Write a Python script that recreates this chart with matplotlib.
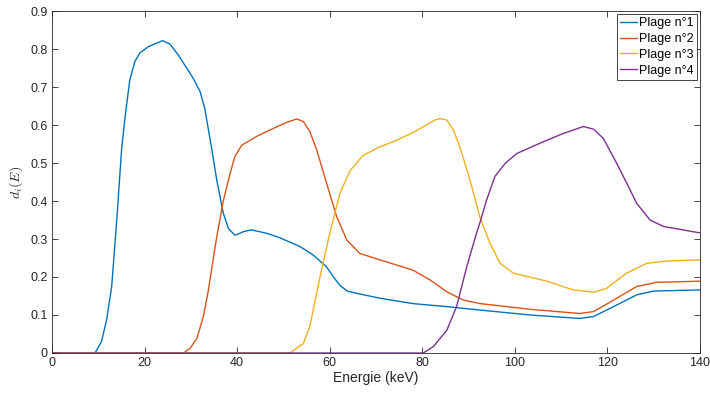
import matplotlib.pyplot as plt

plt.rcParams['font.family'] = ['Liberation Sans', 'DejaVu Sans']
plt.rcParams['mathtext.fontset'] = 'cm'

# energies (keV) and responses
e1 = [0, 9.3, 10.7, 11.8, 12.9, 14.0, 15.05, 15.8, 16.8, 17.9, 19.0, 20.8, 23.9, 25.5,
      27.3, 30.5, 32.0, 33.0, 34.5, 35.6, 37.0, 38.1, 39.5, 40.2, 41.5, 43.1, 46.4, 49.3,
      53.6, 56.4, 59.3, 60.8, 62.2, 63.8, 65.8, 70.9, 78.0, 85.3, 92.5, 103.3, 114.0,
      117.0, 121.3, 126.3, 130.0, 140]
d1 = [0, 0, 0.03, 0.087, 0.175, 0.35, 0.538, 0.622, 0.718, 0.767, 0.79, 0.806, 0.822, 0.813,
      0.784, 0.723, 0.688, 0.644, 0.538, 0.455, 0.368, 0.328, 0.31, 0.313, 0.32, 0.324, 0.315,
      0.303, 0.28, 0.258, 0.227, 0.2, 0.178, 0.163, 0.157, 0.144, 0.13, 0.122, 0.113, 0.1,
      0.091, 0.096, 0.122, 0.153, 0.163, 0.166]

e2 = [0, 28.4, 29.8, 31.3, 32.7, 33.8, 34.8, 35.6, 37.0, 38.5, 39.5, 41.0, 44.2, 47.8,
      50.7, 52.9, 54.3, 55.7, 57.2, 59.0, 61.5, 63.7, 66.5, 70.9, 78.0, 81.7, 85.3, 88.9,
      92.5, 103.3, 114.0, 117.0, 121.3, 126.3, 130.6, 140]
d2 = [0, 0, 0.012, 0.038, 0.096, 0.166, 0.245, 0.306, 0.4, 0.473, 0.517, 0.547, 0.57, 0.591,
      0.607, 0.616, 0.609, 0.583, 0.534, 0.46, 0.359, 0.297, 0.262, 0.245, 0.218, 0.192,
      0.161, 0.139, 0.13, 0.115, 0.104, 0.109, 0.139, 0.175, 0.186, 0.189]

e3 = [0, 51.4, 54.3, 55.7, 57.9, 60.0, 62.2, 64.4, 67.2, 70.9, 74.5, 78.0, 80.9, 82.7,
      83.8, 85.3, 86.7, 88.1, 90.3, 92.5, 94.6, 96.8, 99.7, 106.9, 112.6, 117.0, 119.8,
      124.1, 128.5, 132.8, 140]
d3 = [0, 0, 0.025, 0.07, 0.2, 0.315, 0.42, 0.48, 0.52, 0.543, 0.56, 0.58, 0.6, 0.613,
      0.617, 0.613, 0.587, 0.543, 0.455, 0.355, 0.289, 0.236, 0.21, 0.189, 0.166, 0.16,
      0.17, 0.21, 0.236, 0.242, 0.245]

e4 = [0, 80.2, 82.4, 85.3, 87.4, 89.6, 91.7, 92.5, 93.9, 95.7, 97.9, 100.4, 105.4, 110.5,
      114.8, 117.0, 119.1, 122.0, 124.9, 126.3, 129.2, 132.1, 140]
d4 = [0, 0, 0.017, 0.06, 0.122, 0.227, 0.315, 0.345, 0.403, 0.465, 0.499, 0.525, 0.552,
      0.578, 0.596, 0.589, 0.565, 0.499, 0.429, 0.394, 0.35, 0.333, 0.316]

series = [(e1, d1, 'Plage n°1'), (e2, d2, 'Plage n°2'),
          (e3, d3, 'Plage n°3'), (e4, d4, 'Plage n°4')]
colors = ['#0072BD', '#D95319', '#EDB120', '#7E2F8E']

fig = plt.figure(figsize=(7.1, 3.99), dpi=100)
ax = fig.add_axes([0.0732, 0.1153, 0.9128, 0.8571])

for (e, d, name), c in zip(series, colors):
    ax.plot(e, d, color=c, lw=1.0, label=name)

ax.set_xlim(0, 140)
ax.set_ylim(0, 0.9)
ax.set_xticks(range(0, 141, 20))
ax.set_yticks([i / 10 for i in range(10)])
ax.set_yticklabels(['0'] + ['0.%d' % i for i in range(1, 10)])
ax.tick_params(direction='in', top=True, right=True, length=4, width=0.6,
               labelsize=9, colors='#262626', labelcolor='#262626', pad=3)
for s in ax.spines.values():
    s.set_color('#262626')
    s.set_linewidth(0.6)

ax.set_xlabel('Energie (keV)', fontsize=10, color='#262626', labelpad=1)
ax.set_ylabel(r'$d_i(E)$', fontsize=10, color='#262626', labelpad=4)

leg = ax.legend(loc='upper right', fontsize=9, fancybox=False, framealpha=1,
                edgecolor='#262626', handlelength=1.4, handletextpad=0.15,
                borderpad=0.25, labelspacing=0.3, borderaxespad=0.25)
leg.get_frame().set_linewidth(0.6)

fig.savefig('out.png', dpi=100)
